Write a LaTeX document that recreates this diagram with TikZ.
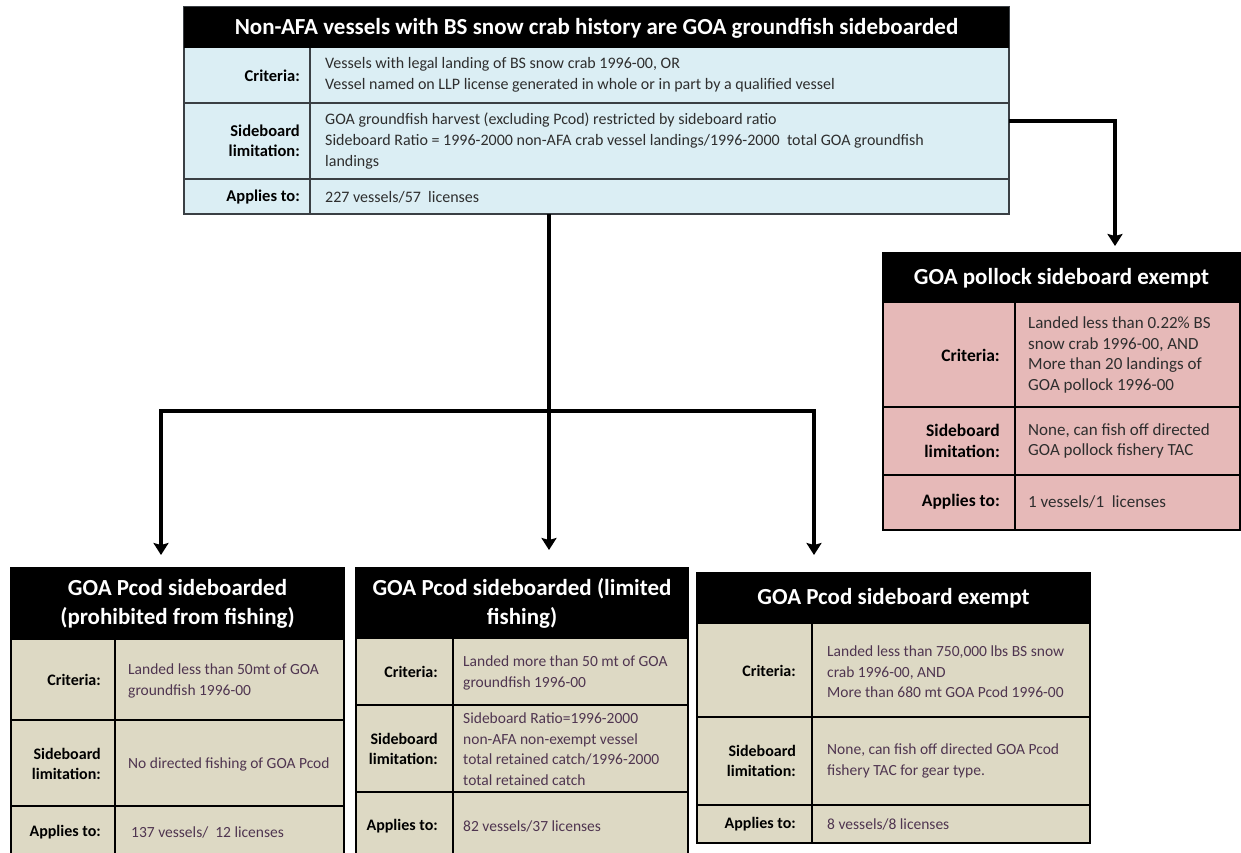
\documentclass[tikz,border=0pt]{standalone}
\usepackage{fontspec}
\setmainfont{Carlito}
\usetikzlibrary{arrows.meta}
\definecolor{blueF}{HTML}{DBEEF4}
\definecolor{pinkF}{HTML}{E6B9B8}
\definecolor{tanF}{HTML}{DDD9C4}
\definecolor{bodyC}{HTML}{2E2E2E}
\definecolor{topline}{HTML}{3A3F44}
\definecolor{tanT}{HTML}{4F3550}
\begin{document}
\begin{tikzpicture}[x=1pt,y=-1pt,
  boxframe/.style={draw, inner sep=0pt, outer sep=0pt, anchor=north west},
  hdr/.style={text=white, font=\bfseries\fontsize{23}{29}\selectfont, align=center, inner sep=0pt},
  lbl/.style={anchor=east, align=right, font=\bfseries\fontsize{16}{19.5}\selectfont, inner sep=0pt},
  toplbl/.style={lbl, font=\bfseries\fontsize{16.5}{20}\selectfont},
  txt/.style={anchor=west, align=left, inner sep=0pt},
  toptxt/.style={txt, text=bodyC, font=\fontsize{16}{21}\selectfont},
  poltxt/.style={txt, text=bodyC, font=\fontsize{17}{20.5}\selectfont},
  pollbl/.style={lbl, font=\bfseries\fontsize{17.5}{21}\selectfont},
  tantxt/.style={txt, text=tanT, font=\fontsize{15.5}{20.5}\selectfont},
  arr/.style={line width=3.5pt, line join=miter, -{Stealth[length=12pt,width=15pt,inset=2pt]}},
]
\useasboundingbox (0,0) rectangle (1241,853);
\clip (0,0) rectangle (1241,853);

% ---------- top box ----------
\node[boxframe, fill=blueF, draw=topline, line width=1.2pt, minimum width=825pt, minimum height=207pt] (top) at (184,7) {};
\fill[black] (184,7) rectangle (1009,48);
\draw[topline, line width=1.2pt] (184,103) -- (1009,103) (184,179) -- (1009,179) (310,48) -- (310,214);
\node[hdr, font=\bfseries\fontsize{23}{27}\selectfont] (topH) at (596.5,28) {Non-AFA vessels with BS snow crab history are GOA groundfish sideboarded};
\node[toplbl] (topL1) at (300,76) {Criteria:};
\node[toptxt] (topT1) at (325,75) {Vessels with legal landing of BS snow crab 1996-00, OR\\Vessel named on LLP license generated in whole or in part by a qualified vessel};
\node[toplbl] (topL2) at (300,141) {Sideboard\\limitation:};
\node[toptxt] (topT2) at (325,141) {GOA groundfish harvest (excluding Pcod) restricted by sideboard ratio\\Sideboard Ratio = 1996-2000 non-AFA crab vessel landings/1996-2000 \ total GOA groundfish\\landings};
\node[toplbl] (topL3) at (300,197) {Applies to:};
\node[toptxt] (topT3) at (325,197) {227 vessels/57 \ licenses};

% ---------- pollock box ----------
\node[boxframe, fill=pinkF, line width=1.5pt, minimum width=357pt, minimum height=277pt] (pol) at (883,253) {};
\fill[black] (883,253) rectangle (1240,303);
\draw[line width=1.5pt] (883,407) -- (1240,407) (883,475) -- (1240,475) (1015,303) -- (1015,530);
\node[hdr] (polH) at (1061.5,278) {GOA pollock sideboard exempt};
\node[pollbl] (polL1) at (1000,355) {Criteria:};
\node[poltxt] (polT1) at (1028,355) {Landed less than 0.22\% BS\\snow crab 1996-00, AND\\More than 20 landings of\\GOA pollock 1996-00};
\node[pollbl] (polL2) at (1000,441) {Sideboard\\limitation:};
\node[poltxt] (polT2) at (1028,441) {None, can fish off directed\\GOA pollock fishery TAC};
\node[pollbl] (polL3) at (1000,502) {Applies to:};
\node[poltxt] (polT3) at (1028,502) {1 vessels/1 \ licenses};

% ---------- box A ----------
\node[boxframe, fill=tanF, line width=2pt, minimum width=333pt, minimum height=292pt] (A) at (11,568) {};
\fill[black] (11,568) rectangle (344,640);
\draw[line width=2pt] (11,720) -- (344,720) (11,806) -- (344,806) (115,640) -- (115,860);
\node[hdr] (AH) at (177.5,604) {GOA Pcod sideboarded\\(prohibited from fishing)};
\node[lbl] (AL1) at (101,680) {Criteria:};
\node[tantxt] (AT1) at (128,681) {Landed less than 50mt of GOA\\groundfish 1996-00};
\node[lbl] (AL2) at (101,764) {Sideboard\\limitation:};
\node[tantxt] (AT2) at (128,764) {No directed fishing of GOA Pcod};
\node[lbl] (AL3) at (101,832) {Applies to:};
\node[tantxt] (AT3) at (131,832) {137 vessels/ \ 12 licenses};

% ---------- box B ----------
\node[boxframe, fill=tanF, line width=2pt, minimum width=332pt, minimum height=292pt] (B) at (356,568) {};
\fill[black] (356,568) rectangle (688,639);
\draw[line width=2pt] (356,705) -- (688,705) (356,792) -- (688,792) (453,639) -- (453,860);
\node[hdr] (BH) at (522,603) {GOA Pcod sideboarded (limited\\fishing)};
\node[lbl] (BL1) at (438,672) {Criteria:};
\node[tantxt] (BT1) at (463,673) {Landed more than 50 mt of GOA\\groundfish 1996-00};
\node[lbl] (BL2) at (438,749) {Sideboard\\limitation:};
\node[tantxt] (BT2) at (463,749) {Sideboard Ratio=1996-2000\\non-AFA non-exempt vessel\\total retained catch/1996-2000\\total retained catch};
\node[lbl] (BL3) at (438,826) {Applies to:};
\node[tantxt] (BT3) at (463,826) {82 vessels/37 licenses};

% ---------- box C ----------
\node[boxframe, fill=tanF, line width=2pt, minimum width=393pt, minimum height=270pt] (C) at (697,573) {};
\fill[black] (697,573) rectangle (1090,624);
\draw[line width=2pt] (697,717) -- (1090,717) (697,805) -- (1090,805) (812,624) -- (812,843);
\node[hdr] (CH) at (893.5,598) {GOA Pcod sideboard exempt};
\node[lbl] (CL1) at (796,671) {Criteria:};
\node[tantxt] (CT1) at (827,672) {Landed less than 750,000 lbs BS snow\\crab 1996-00, AND\\More than 680 mt GOA Pcod 1996-00};
\node[lbl] (CL2) at (796,761) {Sideboard\\limitation:};
\node[tantxt] (CT2) at (827,761) {None, can fish off directed GOA Pcod\\fishery TAC for gear type.};
\node[lbl] (CL3) at (796,824) {Applies to:};
\node[tantxt] (CT3) at (827,824) {8 vessels/8 licenses};

% ---------- connectors ----------
\coordinate (j) at (549,411);
\coordinate (jL) at (161,411);
\coordinate (jR) at (814,411);
\coordinate (r) at (1115,121);
\draw[arr, shorten >=18pt] (top.south -| j) -- (B.north -| j);
\draw[arr, shorten >=13pt] (j) -- (jL) -- (A.north -| jL);
\draw[arr, shorten >=18pt] (j) -- (jR) -- (C.north -| jR);
\draw[arr, shorten >=7pt] (top.east |- r) -- (r) -- (pol.north -| r);
\end{tikzpicture}
\end{document}
